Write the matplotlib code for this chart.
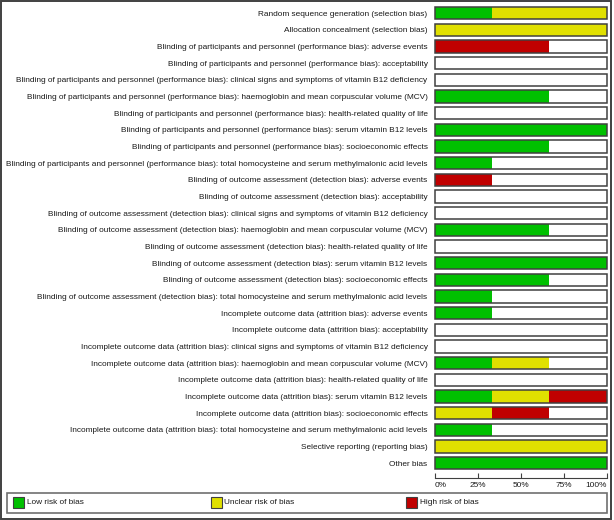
import matplotlib
matplotlib.use("Agg")
import matplotlib.pyplot as plt
from matplotlib.patches import Rectangle

plt.rcParams['font.family'] = ['Liberation Sans', 'DejaVu Sans']

labels = [
    "Random sequence generation (selection bias)",
    "Allocation concealment (selection bias)",
    "Blinding of participants and personnel (performance bias): adverse events",
    "Blinding of participants and personnel (performance bias): acceptability",
    "Blinding of participants and personnel (performance bias): clinical signs and symptoms of vitamin B12 deficiency",
    "Blinding of participants and personnel (performance bias): haemoglobin and mean corpuscular volume (MCV)",
    "Blinding of participants and personnel (performance bias): health-related quality of life",
    "Blinding of participants and personnel (performance bias): serum vitamin B12 levels",
    "Blinding of participants and personnel (performance bias): socioeconomic effects",
    "Blinding of participants and personnel (performance bias): total homocysteine and serum methylmalonic acid levels",
    "Blinding of outcome assessment (detection bias): adverse events",
    "Blinding of outcome assessment (detection bias): acceptability",
    "Blinding of outcome assessment (detection bias): clinical signs and symptoms of vitamin B12 deficiency",
    "Blinding of outcome assessment (detection bias): haemoglobin and mean corpuscular volume (MCV)",
    "Blinding of outcome assessment (detection bias): health-related quality of life",
    "Blinding of outcome assessment (detection bias): serum vitamin B12 levels",
    "Blinding of outcome assessment (detection bias): socioeconomic effects",
    "Blinding of outcome assessment (detection bias): total homocysteine and serum methylmalonic acid levels",
    "Incomplete outcome data (attrition bias): adverse events",
    "Incomplete outcome data (attrition bias): acceptability",
    "Incomplete outcome data (attrition bias): clinical signs and symptoms of vitamin B12 deficiency",
    "Incomplete outcome data (attrition bias): haemoglobin and mean corpuscular volume (MCV)",
    "Incomplete outcome data (attrition bias): health-related quality of life",
    "Incomplete outcome data (attrition bias): serum vitamin B12 levels",
    "Incomplete outcome data (attrition bias): socioeconomic effects",
    "Incomplete outcome data (attrition bias): total homocysteine and serum methylmalonic acid levels",
    "Selective reporting (reporting bias)",
    "Other bias",
]

# number of studies (out of 3) per judgement
low     = [1, 0, 0, 0, 0, 2, 0, 3, 2, 1, 0, 0, 0, 2, 0, 3, 2, 1, 1, 0, 0, 1, 0, 1, 0, 1, 0, 3]
unclear = [2, 3, 0, 0, 0, 0, 0, 0, 0, 0, 0, 0, 0, 0, 0, 0, 0, 0, 0, 0, 0, 1, 0, 1, 1, 0, 3, 0]
high    = [0, 0, 2, 0, 0, 0, 0, 0, 0, 0, 1, 0, 0, 0, 0, 0, 0, 0, 0, 0, 0, 0, 0, 1, 1, 0, 0, 0]
n_studies = 3

tick_vals = [0, 0.25, 0.5, 0.75, 1.0]
tick_labels = ["0%", "25%", "50%", "75%", "100%"]
legend_labels = ["Low risk of bias", "Unclear risk of bias", "High risk of bias"]

c_low, c_unc, c_high = '#00C000', '#E0E000', '#C00000'
edge = '#404040'
txt = '#1a1a1a'
fs = 5.92

W, H = 614, 520
fig = plt.figure(figsize=(W / 100, H / 100), dpi=100)

def fx(px):
    return px / W

def fy(py):
    return 1 - py / H

ax_l, ax_r, ax_t, ax_b = 434.5, 606.5, 4.7, 478.0
ax = fig.add_axes([fx(ax_l), fy(ax_b), fx(ax_r) - fx(ax_l), (ax_b - ax_t) / H])
n = len(labels)
row_h = 16.66
top_i = -(13.3 - ax_t) / row_h
bot_i = (ax_b - 13.3) / row_h
ax.set_ylim(bot_i, top_i)
ax.set_xlim(0, 1)

bh = 0.74
for i in range(n):
    l = low[i] / n_studies
    u = unclear[i] / n_studies
    h = high[i] / n_studies
    if l:
        ax.barh(i, l, left=0, height=bh, color=c_low, linewidth=0)
    if u:
        ax.barh(i, u, left=l, height=bh, color=c_unc, linewidth=0)
    if h:
        ax.barh(i, h, left=l + u, height=bh, color=c_high, linewidth=0)
    ax.add_patch(Rectangle((0, i - bh / 2), 1, bh, fill=False, edgecolor=edge,
                           linewidth=1.1, clip_on=False, zorder=5))

ax.set_yticks(range(n))
ax.set_yticklabels(labels, fontsize=fs, color=txt)
ax.tick_params(axis='y', length=0, pad=5)
ax.set_xticks(tick_vals)
ax.set_xticklabels(tick_labels, fontsize=fs, color=txt)
ax.tick_params(axis='x', direction='in', length=3.5, width=0.8, color=edge, pad=3)
xl = ax.get_xticklabels()
xl[0].set_horizontalalignment('left')
xl[-1].set_horizontalalignment('right')
for s in ['left', 'right', 'top']:
    ax.spines[s].set_visible(False)
ax.spines['bottom'].set_color(edge)
ax.spines['bottom'].set_linewidth(0.8)
ax.set_facecolor('none')

# legend box
fig.patches.append(Rectangle((fx(7), fy(513.3)), fx(607) - fx(7), (513.3 - 492.5) / H,
                             transform=fig.transFigure, fill=False, edgecolor='#707070', linewidth=1.2))
sq_x = [13.3, 210.6, 406.0]
for x0, c, lab in zip(sq_x, [c_low, c_unc, c_high], legend_labels):
    fig.patches.append(Rectangle((fx(x0), fy(508.3)), 11 / W, 11 / H, transform=fig.transFigure,
                                 facecolor=c, edgecolor=edge, linewidth=0.8))
    fig.text(fx(x0 + 13.5), fy(503), lab, fontsize=fs, color=txt, va='center', ha='left')

# outer frame
fig.patches.append(Rectangle((fx(0.7), fy(519)), fx(611) - fx(0.7), (519 - 0.7) / H,
                             transform=fig.transFigure, fill=False, edgecolor='#404040', linewidth=1.4))

fig.savefig('out.png', dpi=100)
